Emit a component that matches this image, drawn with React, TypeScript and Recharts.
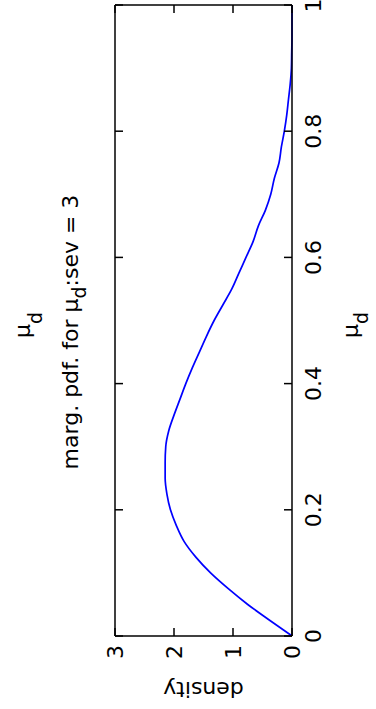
import { Line, LineChart, XAxis, YAxis } from 'recharts';

// marginal pdf of mu_d
const MU_D = [
  0, 0.025, 0.05, 0.075, 0.1, 0.125, 0.15, 0.175, 0.2, 0.225, 0.25, 0.275, 0.3, 0.325, 0.35, 0.375, 0.4,
  0.425, 0.45, 0.475, 0.5, 0.525, 0.55, 0.575, 0.6, 0.625, 0.65, 0.675, 0.7, 0.725, 0.75, 0.775, 0.8,
  0.825, 0.85, 0.875, 0.9, 0.925, 0.95, 0.975, 1,
];
const DENSITY = [
  0, 0.38, 0.75, 1.08, 1.38, 1.63, 1.83, 1.96, 2.06, 2.12, 2.15, 2.15, 2.14, 2.09, 2.0, 1.9, 1.8,
  1.69, 1.57, 1.45, 1.32, 1.17, 1.02, 0.9, 0.78, 0.66, 0.57, 0.45, 0.36, 0.3, 0.22, 0.18, 0.13,
  0.09, 0.06, 0.03, 0.01, 0.005, 0, 0, 0,
];
const X_TICKS = [0, 0.2, 0.4, 0.6, 0.8, 1];
const Y_TICKS = [0, 1, 2, 3];

const FONT = '"DejaVu Sans", "Liberation Sans", Arial, sans-serif';
const W = 709;
const H = 376;

const frame = { stroke: '#000', strokeWidth: 1.5 };
const blank = () => '';

export default function App() {
  const data = MU_D.map((mu, i) => ({ mu, density: DENSITY[i] }));
  const tickStyle = { fill: '#000', fontSize: 22, fontFamily: FONT };

  return (
    <div
      style={{
        position: 'fixed',
        left: 0,
        top: 0,
        width: 376,
        height: 709,
        background: '#fff',
        overflow: 'hidden',
      }}
    >
      {/* the figure is drawn landscape and turned a quarter turn to the left */}
      <div
        style={{
          position: 'absolute',
          left: 0,
          top: 0,
          width: W,
          height: H,
          transformOrigin: '0 0',
          transform: `translate(0px, ${W}px) rotate(-90deg)`,
        }}
      >
        <LineChart width={W} height={H} data={data} margin={{ top: 114, right: 4, bottom: 24, left: 13 }}>
          <XAxis
            dataKey="mu"
            type="number"
            domain={[0, 1]}
            ticks={X_TICKS}
            height={60}
            tickSize={-8}
            tickMargin={21}
            tick={tickStyle}
            axisLine={frame}
            tickLine={frame}
            tickFormatter={(v) => String(v)}
          />
          <XAxis
            xAxisId="top"
            orientation="top"
            dataKey="mu"
            type="number"
            domain={[0, 1]}
            ticks={X_TICKS}
            height={1}
            tickSize={-8}
            tick={tickStyle}
            tickFormatter={blank}
            axisLine={frame}
            tickLine={frame}
          />
          <YAxis
            type="number"
            domain={[0, 3]}
            ticks={Y_TICKS}
            width={60}
            tickSize={-8}
            tickMargin={17}
            tick={tickStyle}
            axisLine={frame}
            tickLine={frame}
          />
          <YAxis
            yAxisId="right"
            orientation="right"
            type="number"
            domain={[0, 3]}
            ticks={Y_TICKS}
            width={1}
            tickSize={-8}
            tick={tickStyle}
            tickFormatter={blank}
            axisLine={frame}
            tickLine={frame}
          />
          {/* invisible copy so the mirrored box axes get drawn */}
          <Line
            xAxisId="top"
            yAxisId="right"
            dataKey="density"
            stroke="none"
            dot={false}
            activeDot={false}
            isAnimationActive={false}
          />
          <Line
            dataKey="density"
            type="monotone"
            stroke="#0000ff"
            strokeWidth={1.7}
            dot={false}
            isAnimationActive={false}
          />
        </LineChart>
        <svg
          width={W}
          height={H}
          style={{ position: 'absolute', left: 0, top: 0, pointerEvents: 'none' }}
          fontFamily={FONT}
          fontSize={22}
          fill="#000"
        >
          <text x={384} y={30} textAnchor="middle">
            μ<tspan fontSize={19} dy={12}>d</tspan>
          </text>
          <text x={377} y={78} textAnchor="middle">
            marg. pdf. for μ<tspan fontSize={19} dy={8}>d</tspan>
            <tspan dy={-8}>:sev = 3</tspan>
          </text>
          <text x={384} y={358} textAnchor="middle">
            μ<tspan fontSize={19} dy={10}>d</tspan>
          </text>
          <text transform="translate(27, 203.5) rotate(-90)" textAnchor="middle">
            density
          </text>
        </svg>
      </div>
    </div>
  );
}
